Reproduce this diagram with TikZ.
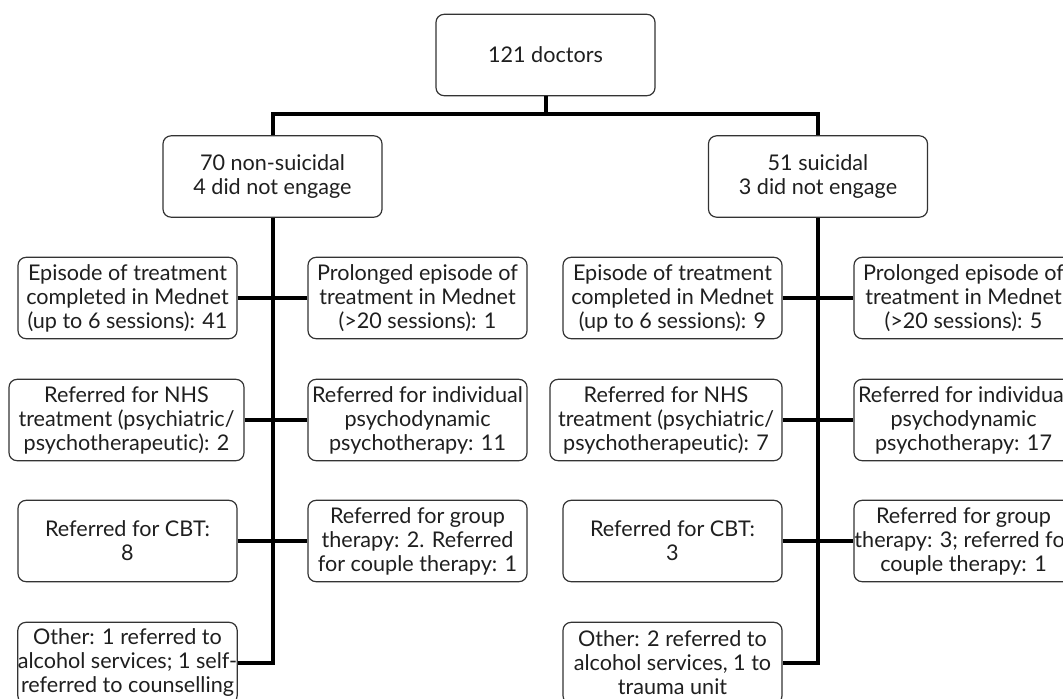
\documentclass[tikz,border=0pt]{standalone}
\usepackage{fontspec}
\setmainfont{Lato}[Ligatures=NoCommon]
\begin{document}
\begin{tikzpicture}[x=0.75pt,y=-0.75pt,
  box/.style={draw=black!80, line width=0.9pt, rounded corners=6pt, fill=white,
    align=center, inner sep=0pt, minimum width=164.25pt, minimum height=61pt,
    font=\fontsize{16.2}{18}\selectfont, text=black!88},
  link/.style={line width=3pt, line join=miter, line cap=butt}]
\clip (0,0) rectangle (1063,699);
\fill[white] (0,0) rectangle (1063,699);

\node[box] (top) at (545.5,55) {121 doctors};
\node[box] (ns) at (272.5,176.5) {70 non-suicidal\\4 did not engage};
\node[box] (su) at (818,176.5) {51 suicidal\\3 did not engage};
\coordinate (bar) at (545.5,114);

% left branch
\node[box] (ll1) at (127.5,298) {Episode of treatment\\completed in Mednet\\(up to 6 sessions): 41};
\node[box] (lr1) at (417.5,298) {Prolonged episode of\\treatment in Mednet\\(>20 sessions): 1};
\node[box, minimum width=176.25pt] (ll2) at (126.5,420) {Referred for NHS\\treatment (psychiatric/\\psychotherapeutic): 2};
\node[box] (lr2) at (417.5,420) {Referred for individual\\psychodynamic\\psychotherapy: 11};
\node[box] (ll3) at (127.5,541) {Referred for CBT:\\8};
\node[box] (lr3) at (417.5,541) {Referred for group\\therapy: 2. Referred\\for couple therapy: 1};
\node[box] (ll4) at (127.5,663) {Other: 1 referred to\\alcohol services; 1 self-\\referred to counselling};

% right branch
\node[box] (rl1) at (672.5,298) {Episode of treatment\\completed in Mednet\\(up to 6 sessions): 9};
\node[box] (rr1) at (963.5,298) {Prolonged episode of\\treatment in Mednet\\(>20 sessions): 5};
\node[box, minimum width=174pt] (rl2) at (666,420) {Referred for NHS\\treatment (psychiatric/\\psychotherapeutic): 7};
\node[box] (rr2) at (963.5,420) {Referred for individual\\psychodynamic\\psychotherapy: 17};
\node[box] (rl3) at (672.5,541) {Referred for CBT:\\3};
\node[box] (rr3) at (963.5,541) {Referred for group\\therapy: 3; referred for\\couple therapy: 1};
\node[box] (rl4) at (672.5,663) {Other: 2 referred to\\alcohol services, 1 to\\trauma unit};

% connectors
\draw[link] (top.south) -- (bar);
\draw[link] (ns.north) -- (ns.north |- bar) -- (su.north |- bar) -- (su.north);
\draw[link] (ns.south) |- (ll4.east);
\draw[link] (su.south) |- (rl4.east);
\draw[link] (ll1.east) -- (lr1.west);
\draw[link] (ll2.east) -- (lr2.west);
\draw[link] (ll3.east) -- (lr3.west);
\draw[link] (rl1.east) -- (rr1.west);
\draw[link] (rl2.east) -- (rr2.west);
\draw[link] (rl3.east) -- (rr3.west);
\end{tikzpicture}
\end{document}
